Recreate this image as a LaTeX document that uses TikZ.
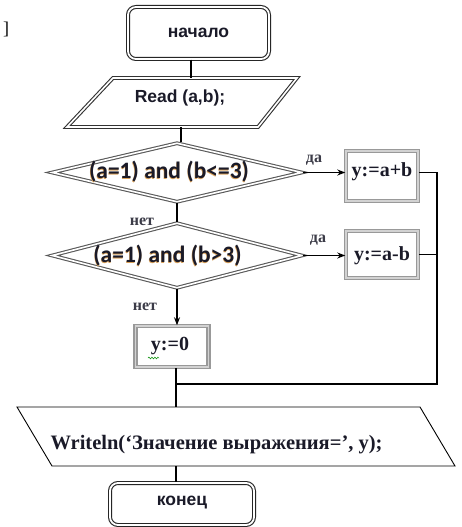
\documentclass[tikz,border=0pt]{standalone}
\usepackage{fontspec}
\setmainfont{Liberation Serif}
\newfontfamily\headfont{Liberation Sans}
\newfontfamily\condfont{Carlito}
\usetikzlibrary{shapes.geometric,arrows.meta,decorations.pathmorphing}
\definecolor{ink}{HTML}{1A1A28}
\definecolor{glow}{HTML}{D9A15A}

\begin{document}
\begin{tikzpicture}[x=1pt,y=-1pt,
  line/.style={draw=black,line width=1.6pt},
  arrowline/.style={line,-{Stealth[length=8pt,width=6pt]}},
  terminal/.style={draw=black!85,double=white,double distance=1.8pt,line width=1.1pt,
    rounded corners=8pt,minimum width=141pt,inner sep=0pt},
  iobox/.style={draw=black!80,double=white,double distance=1.6pt,line width=1.1pt},
  outbox/.style={draw=black,line width=0.9pt},
  decision/.style={diamond,draw=black!65,double=white,double distance=1.6pt,line width=1.1pt,
    minimum width=250pt,inner sep=0pt},
  procbox/.style={rectangle,draw=gray!80,double=gray!35,double distance=1.4pt,line width=1.5pt,
    inner sep=0pt},
  sanstext/.style={font=\headfont\bfseries\fontsize{17.5}{19}\selectfont,text=ink},
  condtext/.style={font=\condfont\bfseries\fontsize{23.5}{25}\selectfont,text=ink},
  condglow/.style={font=\condfont\bfseries\fontsize{23.5}{25}\selectfont,text=glow},
  serifbold/.style={font=\bfseries\fontsize{20}{22}\selectfont,text=ink},
  branchlabel/.style={font=\bfseries\fontsize{16}{17}\selectfont,text=ink!85,inner sep=0pt}
]
\useasboundingbox[fill=white] (0,0) rectangle (462,527);

% stray bracket at the top left
\node[font=\fontsize{18}{19}\selectfont] (bracket) at (6,29) {]};

% start terminal
\node[terminal,minimum height=52pt] (start) at (198.5,33) {};
\node[sanstext] (starttxt) at (start) {начало};

% input parallelogram
\draw[iobox] (113,78) -- (297,78) -- (258,127) -- (67,127) -- cycle;
\coordinate (readtop) at (191,78);
\coordinate (readbot) at (181,127);
\node[sanstext] (readtxt) at (180,98) {Read (a,b);};

% decisions
\node[decision,minimum height=59pt] (d1) at (177,172.5) {};
\node[condglow] at (168.6,172.6) {(a=1) and (b<=3)};
\node[condtext] (d1txt) at (169,172) {(a=1) and (b<=3)};
\node[decision,minimum height=65pt] (d2) at (177,255.5) {};
\node[condglow] at (167.1,256.6) {(a=1) and (b>3)};
\node[condtext] (d2txt) at (167.5,256) {(a=1) and (b>3)};

% assignments
\node[procbox,minimum width=72pt,minimum height=50pt] (p1) at (382,176) {};
\node[serifbold] (p1txt) at (382,172) {y:=a+b};
\node[procbox,minimum width=72pt,minimum height=47pt] (p2) at (382,254.5) {};
\node[serifbold] (p2txt) at (382,256) {y:=a-b};
\node[procbox,minimum width=73pt,minimum height=41pt] (p3) at (172,346.5) {};
\node[serifbold] (p3txt) at (170,346) {y:=0};
\draw[green!55!black,line width=0.5pt,decorate,
  decoration={snake,amplitude=0.9pt,segment length=3pt}] (148,358) -- (159,358);

% output parallelogram
\draw[outbox] (17,407) -- (420,407) -- (455,466) -- (52,466) -- cycle;
\coordinate (outtop) at (176,407);
\coordinate (outbot) at (176,466);
\node[serifbold,font=\bfseries\fontsize{20.5}{22}\selectfont] (outtxt) at (216.5,445) {Writeln(‘Значение выражения=’, y);};

% end terminal
\node[terminal,minimum width=144pt,minimum height=42pt] (stop) at (182,504) {};
\node[sanstext] (stoptxt) at (182,503) {конец};

% connectors
\coordinate (rail) at (437,384);
\coordinate (join) at (176,384);
\draw[line] (start.south -| readtop) -- (readtop);
\draw[line] (readbot) -- (readbot |- d1.north);
\draw[line] (d1.south) -- (d2.north);
\draw[arrowline] (d2.south) -- (d2.south |- p3.north);
\draw[arrowline] (d1.east) -- (d1.east -| p1.west);
\draw[arrowline] (d2.east) -- (d2.east -| p2.west);
\draw[line] (p1.east |- d1.east) -- (rail |- d1.east) -- (rail) -- (join);
\draw[line] (p2.east) -- (p2.east -| rail);
\draw[line] (p3.south -| join) -- (outtop);
\draw[line] (outbot) -- (stop.north -| outbot);

% branch labels
\node[branchlabel] (yes1) at (314,160) {да};
\node[branchlabel] (yes2) at (318,240) {да};
\node[branchlabel] (no1) at (142,222) {нет};
\node[branchlabel] (no2) at (145,307) {нет};
\end{tikzpicture}
\end{document}
